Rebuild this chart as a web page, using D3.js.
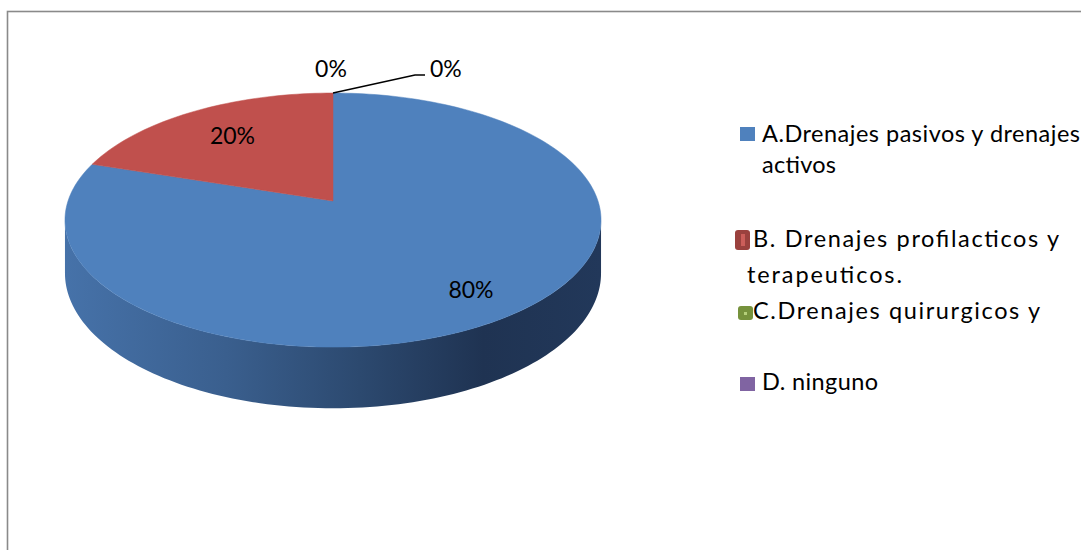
<!DOCTYPE html>
<html>
<head>
<meta charset="utf-8">
<script src="https://cdn.jsdelivr.net/npm/d3@7"></script>
<style>
  html, body { margin: 0; padding: 0; background: #fff; }
  svg { display: block; }
  text { font-family: Lato, "Noto Sans", sans-serif; fill: #000; }
</style>
</head>
<body>
<svg id="chart" width="1081" height="550"></svg>
<script>
// ---- data ----
const categories = [
  "A.Drenajes pasivos y drenajes activos",
  "B. Drenajes profilacticos y terapeuticos.",
  "C.Drenajes quirurgicos y",
  "D. ninguno"
];
const values = [80, 20, 0, 0];
const legendLines = [
  ["A.Drenajes pasivos y drenajes", "activos"],
  ["B. Drenajes profilacticos y", "terapeuticos."],
  ["C.Drenajes quirurgicos y"],
  ["D. ninguno"]
];
const colors = ["#4f81bd", "#c0504d", "#9bbb59", "#8064a2"];

// ---- layout ----
const W = 1081, H = 550;
const svg = d3.select("#chart");

// chart frame
svg.append("rect")
  .attr("x", 7.5).attr("y", 11.5)
  .attr("width", W + 20).attr("height", H + 20)
  .attr("fill", "#fff").attr("stroke", "#8a8a8a").attr("stroke-width", 1.6);

// perspective pie projection: unit disc (u across, v toward viewer), z = depth 0..1
const cx = 333, cy = 201, RX = 265, RY = 124.2, K = 0.15, DEPTH = 52;
function proj(u, v, z) {
  const s = 1 / (1 - K * v);
  return [cx + RX * u * s, cy + (RY * v + DEPTH * z) * s];
}
function rimPoint(a, r, z) {
  return proj(r * Math.sin(a), -r * Math.cos(a), z);
}

const pie = d3.pie().sort(null).startAngle(0).endAngle(2 * Math.PI);
const arcs = pie(values);
const line = d3.line();

// side wall gradient
const defs = svg.append("defs");
const grad = defs.append("linearGradient")
  .attr("id", "sideGrad").attr("gradientUnits", "userSpaceOnUse")
  .attr("x1", 65).attr("x2", 601).attr("y1", 0).attr("y2", 0);
[[0, "#4672a9"], [0.3, "#3a5f8e"], [0.55, "#2c496f"], [0.78, "#1f3352"], [1, "#22385a"]]
  .forEach(([o, c]) => grad.append("stop").attr("offset", o).attr("stop-color", c));

// visible front side: between the silhouette angles of the rim
const aR = Math.acos(-K), aL = 2 * Math.PI - aR;
const steps = 120;
// side belongs to the slice covering the front arc
arcs.forEach((d, i) => {
  const s = Math.max(d.startAngle, aR), e = Math.min(d.endAngle, aL);
  if (e <= s) return;
  const n = Math.max(2, Math.round((e - s) / (aL - aR) * steps));
  const top = d3.range(n + 1).map(j => rimPoint(s + (e - s) * j / n, 1, 0));
  const bot = d3.range(n + 1).map(j => rimPoint(e - (e - s) * j / n, 1, 1));
  svg.append("path")
    .attr("d", line(top.concat(bot)) + "Z")
    .attr("fill", i === 0 ? "url(#sideGrad)" : d3.color(colors[i]).darker(1.2));
});

// top faces
arcs.forEach((d, i) => {
  if (d.endAngle - d.startAngle <= 0) return;
  const n = Math.max(2, Math.round((d.endAngle - d.startAngle) / (2 * Math.PI) * 240));
  const pts = [proj(0, 0, 0)].concat(
    d3.range(n + 1).map(j => rimPoint(d.startAngle + (d.endAngle - d.startAngle) * j / n, 1, 0)));
  svg.append("path")
    .attr("d", line(pts) + "Z")
    .attr("fill", colors[i])
    .attr("stroke", colors[i]).attr("stroke-width", 0.5);
});

// data labels
const fmt = v => Math.round(v) + "%";
const total = d3.sum(values);
const labelFont = 23;
const labelRadius = [0.8, 0.7];
arcs.forEach((d, i) => {
  const pct = d.data / total * 100;
  if (pct > 0) {
    const mid = (d.startAngle + d.endAngle) / 2;
    const [x, y] = rimPoint(mid, labelRadius[i], 0);
    svg.append("text").attr("x", x).attr("y", y + 8)
      .attr("text-anchor", "middle").attr("font-size", labelFont).text(fmt(pct));
  }
});
// zero-value slices sit at the top of the rim
{
  const [tx, ty] = rimPoint(arcs[2].startAngle, 1, 0);
  svg.append("text").attr("x", tx - 2).attr("y", ty - 16)
    .attr("text-anchor", "middle").attr("font-size", labelFont)
    .text(fmt(values[2] / total * 100));
  const [dx, dy] = rimPoint(arcs[3].startAngle, 1, 0);
  svg.append("path")
    .attr("d", line([[dx, dy], [dx + 82, dy - 18], [dx + 92, dy - 18]]))
    .attr("fill", "none").attr("stroke", "#000").attr("stroke-width", 1.5);
  svg.append("text").attr("x", dx + 97).attr("y", dy - 16)
    .attr("font-size", labelFont).text(fmt(values[3] / total * 100));
}

// legend
const legendFont = 23.5;
const legendRows = [
  { baselines: [142, 173], xs: [762, 762], widths: [318, 74] },
  { baselines: [247, 283], xs: [753, 747], widths: [306, 155] },
  { baselines: [319], xs: [753], widths: [287] },
  { baselines: [390], xs: [762], widths: [116] }
];
const lg = svg.append("g");
// markers
lg.append("rect").attr("x", 740).attr("y", 127).attr("width", 15).attr("height", 14).attr("fill", colors[0]);
lg.append("rect").attr("x", 735).attr("y", 230).attr("width", 15).attr("height", 20).attr("rx", 3)
  .attr("fill", d3.color(colors[1]).darker(0.6));
lg.append("rect").attr("x", 741).attr("y", 234).attr("width", 4).attr("height", 12).attr("fill", "#cc5e5a");
lg.append("rect").attr("x", 738).attr("y", 306).attr("width", 15).attr("height", 14).attr("rx", 3)
  .attr("fill", "#76923c");
lg.append("rect").attr("x", 744).attr("y", 312).attr("width", 3).attr("height", 3).attr("fill", "#b5d07a");
lg.append("rect").attr("x", 740).attr("y", 377).attr("width", 15).attr("height", 14).attr("fill", colors[3]);

legendLines.forEach((lines, i) => {
  lines.forEach((t, j) => {
    lg.append("text")
      .attr("x", legendRows[i].xs[j]).attr("y", legendRows[i].baselines[j])
      .attr("font-size", legendFont)
      .attr("textLength", legendRows[i].widths[j])
      .attr("lengthAdjust", "spacing")
      .text(t);
  });
});
</script>
</body>
</html>
